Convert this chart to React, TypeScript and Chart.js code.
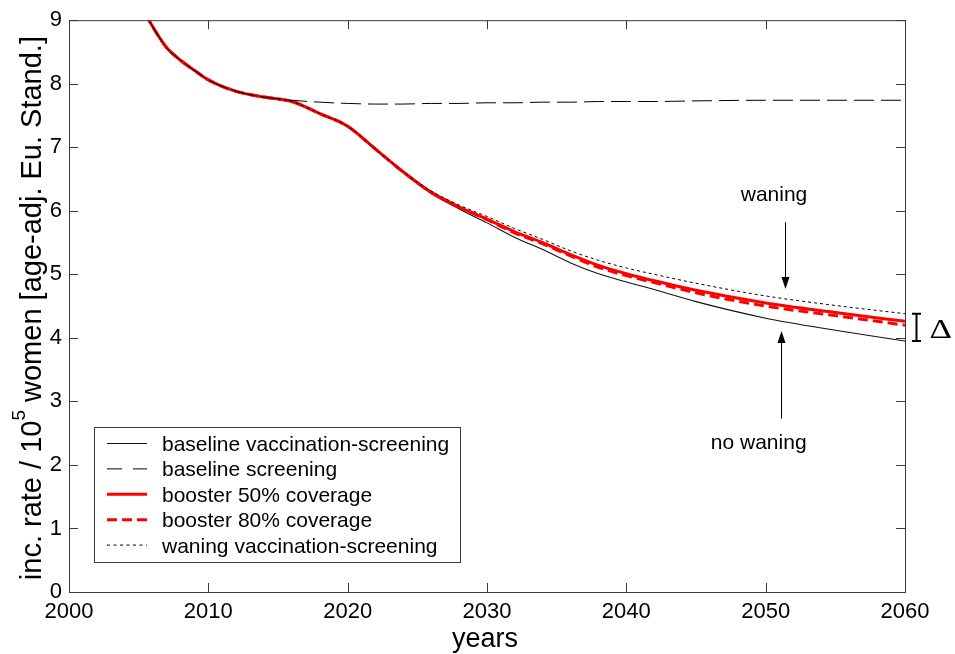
import { useEffect, useRef } from "react";
import { Chart, registerables } from "chart.js";

Chart.register(...registerables);

// Simulation years (irregular spacing, denser where the curves bend)
const years = [
  2005, 2006, 2007, 2008, 2009, 2010, 2012, 2014, 2016, 2018, 2020, 2022, 2024,
  2026, 2028, 2030, 2032, 2034, 2036, 2038, 2040, 2042, 2045, 2050, 2055, 2060,
];

// Incidence rate per 10^5 women (age-adjusted, European standard)
const baselineVaccinationScreening = [
  9.3, 8.9, 8.57, 8.37, 8.21, 8.06, 7.88, 7.79, 7.72, 7.53, 7.33, 6.97, 6.61,
  6.27, 6.03, 5.81, 5.58, 5.39, 5.18, 5.01, 4.88, 4.76, 4.57, 4.31, 4.12, 3.95,
];
const baselineScreening = [
  9.3, 8.9, 8.57, 8.37, 8.21, 8.06, 7.88, 7.79, 7.74, 7.71, 7.69, 7.68, 7.68,
  7.69, 7.69, 7.7, 7.7, 7.71, 7.71, 7.72, 7.72, 7.72, 7.73, 7.74, 7.74, 7.74,
];
const booster50 = [
  9.3, 8.9, 8.57, 8.37, 8.21, 8.06, 7.88, 7.79, 7.72, 7.53, 7.33, 6.97, 6.61,
  6.29, 6.06, 5.87, 5.67, 5.5, 5.31, 5.14, 5.01, 4.9, 4.75, 4.55, 4.4, 4.26,
];
const booster80 = [
  9.3, 8.9, 8.57, 8.37, 8.21, 8.06, 7.88, 7.79, 7.72, 7.53, 7.33, 6.97, 6.61,
  6.29, 6.06, 5.86, 5.65, 5.48, 5.29, 5.11, 4.98, 4.87, 4.71, 4.5, 4.35, 4.2,
];
const waningVaccinationScreening = [
  9.3, 8.9, 8.57, 8.37, 8.21, 8.06, 7.88, 7.79, 7.72, 7.53, 7.33, 6.97, 6.61,
  6.31, 6.09, 5.91, 5.72, 5.55, 5.37, 5.22, 5.1, 5.0, 4.86, 4.66, 4.51, 4.38,
];

const seriesLabels = [
  "baseline vaccination-screening",
  "baseline screening",
  "booster 50% coverage",
  "booster 80% coverage",
  "waning vaccination-screening",
];

const xTicks = [2000, 2010, 2020, 2030, 2040, 2050, 2060];
const yTicks = [0, 1, 2, 3, 4, 5, 6, 7, 8, 9];

// Annotation anchors in data units: [year, value]
const waningLabelAt = [2050.6, 6.15];
const waningArrow = [2051.4, 5.82, 4.77];
const noWaningLabelAt = [2049.5, 2.25];
const noWaningArrow = [2051.1, 2.73, 4.11];

const SANS = "'Liberation Sans', Arial, Helvetica, sans-serif";
const SERIF = "'Liberation Serif', 'Times New Roman', serif";
const AXIS = "#3a3a3a";

const styles = [
  { color: "#111111", width: 1.1, dash: [] as number[], order: 4, legendDash: [] as number[] },
  { color: "#000000", width: 1, dash: [20, 7], order: 1, legendDash: [15, 11] },
  { color: "#ff0000", width: 3, dash: [], order: 3, legendDash: [] },
  { color: "#ff0000", width: 3, dash: [10, 5], order: 2, legendDash: [10, 5] },
  { color: "#000000", width: 1, dash: [3, 3], order: 0, legendDash: [3, 3.5] },
];

function toPoints(values: number[]) {
  return years.map((y, i) => ({ x: y, y: values[i] }));
}

function arrow(ctx: CanvasRenderingContext2D, x: number, y0: number, y1: number) {
  const dir = y1 > y0 ? 1 : -1;
  ctx.beginPath();
  ctx.moveTo(x, y0);
  ctx.lineTo(x, y1 - dir * 10);
  ctx.stroke();
  ctx.beginPath();
  ctx.moveTo(x, y1);
  ctx.lineTo(x - 4, y1 - dir * 12);
  ctx.lineTo(x + 4, y1 - dir * 12);
  ctx.closePath();
  ctx.fill();
}

const decorations = {
  id: "decorations",
  afterDraw(chart: any) {
    const { ctx, chartArea: a, scales } = chart;
    const xs = scales.x;
    const ys = scales.y;
    ctx.save();

    // plot frame
    ctx.strokeStyle = AXIS;
    ctx.lineWidth = 1;
    ctx.setLineDash([]);
    ctx.strokeRect(a.left + 0.5, a.top + 0.5, a.right - a.left, a.bottom - a.top);

    // inward tick marks on all four sides
    const tl = 9;
    ctx.beginPath();
    xTicks.forEach((v) => {
      const px = Math.round(xs.getPixelForValue(v)) + 0.5;
      ctx.moveTo(px, a.bottom);
      ctx.lineTo(px, a.bottom - tl);
      ctx.moveTo(px, a.top);
      ctx.lineTo(px, a.top + tl);
    });
    yTicks.forEach((v) => {
      const py = Math.round(ys.getPixelForValue(v)) + 0.5;
      ctx.moveTo(a.left, py);
      ctx.lineTo(a.left + tl, py);
      ctx.moveTo(a.right, py);
      ctx.lineTo(a.right - tl, py);
    });
    ctx.stroke();

    // axis titles
    ctx.fillStyle = "#000";
    ctx.font = `27px ${SANS}`;
    ctx.textAlign = "center";
    ctx.textBaseline = "alphabetic";
    ctx.fillText("years", (a.left + a.right) / 2 - 2, 647);

    const part1 = "inc. rate / 10";
    const sup = "5";
    const part2 = " women [age-adj. Eu. Stand.]";
    ctx.font = `29px ${SANS}`;
    const w1 = ctx.measureText(part1).width;
    const w2 = ctx.measureText(part2).width;
    ctx.font = `19px ${SANS}`;
    const ws = ctx.measureText(sup).width;
    const total = w1 + ws + w2;
    ctx.save();
    ctx.translate(41, (a.top + a.bottom) / 2 + 2);
    ctx.rotate(-Math.PI / 2);
    ctx.textAlign = "left";
    let cx = -total / 2;
    ctx.font = `29px ${SANS}`;
    ctx.fillText(part1, cx, 0);
    cx += w1;
    ctx.font = `19px ${SANS}`;
    ctx.fillText(sup, cx, -16);
    cx += ws;
    ctx.font = `29px ${SANS}`;
    ctx.fillText(part2, cx, 0);
    ctx.restore();

    // annotations
    ctx.font = `21px ${SANS}`;
    ctx.textAlign = "center";
    ctx.fillText("waning", xs.getPixelForValue(waningLabelAt[0]), ys.getPixelForValue(waningLabelAt[1]));
    ctx.fillText("no waning", xs.getPixelForValue(noWaningLabelAt[0]), ys.getPixelForValue(noWaningLabelAt[1]));
    ctx.strokeStyle = "#000";
    ctx.fillStyle = "#000";
    ctx.lineWidth = 1;
    arrow(
      ctx,
      Math.round(xs.getPixelForValue(waningArrow[0])) + 0.5,
      ys.getPixelForValue(waningArrow[1]),
      ys.getPixelForValue(waningArrow[2])
    );
    arrow(
      ctx,
      Math.round(xs.getPixelForValue(noWaningArrow[0])) + 0.5,
      ys.getPixelForValue(noWaningArrow[1]),
      ys.getPixelForValue(noWaningArrow[2])
    );

    // bracket spanning the waning / no-waning gap at the final year
    const last = years.length - 1;
    const bx = a.right + 11.5;
    const bTop = ys.getPixelForValue(waningVaccinationScreening[last]);
    const bBot = ys.getPixelForValue(baselineVaccinationScreening[last]);
    ctx.lineWidth = 2;
    ctx.beginPath();
    ctx.moveTo(bx, bTop);
    ctx.lineTo(bx, bBot);
    ctx.moveTo(bx - 4.5, bTop);
    ctx.lineTo(bx + 4.5, bTop);
    ctx.moveTo(bx - 4.5, bBot);
    ctx.lineTo(bx + 4.5, bBot);
    ctx.stroke();
    ctx.save();
    ctx.translate(bx + 13, bBot - 3);
    ctx.scale(1.25, 1);
    ctx.font = `28px ${SERIF}`;
    ctx.textAlign = "left";
    ctx.fillText("\u0394", 0, 0);
    ctx.restore();

    // legend
    const lx = 94.5, ly = 427.5, lw = 366, lh = 135;
    ctx.fillStyle = "#fff";
    ctx.fillRect(lx, ly, lw, lh);
    ctx.strokeStyle = AXIS;
    ctx.lineWidth = 1;
    ctx.strokeRect(lx, ly, lw, lh);
    ctx.font = `21px ${SANS}`;
    ctx.textAlign = "left";
    seriesLabels.forEach((label, i) => {
      const rowY = 443.5 + i * 25.4;
      const s = styles[i];
      ctx.strokeStyle = s.color;
      ctx.lineWidth = s.width;
      ctx.setLineDash(s.legendDash);
      ctx.beginPath();
      ctx.moveTo(107, rowY);
      ctx.lineTo(147, rowY);
      ctx.stroke();
      ctx.setLineDash([]);
      ctx.fillStyle = "#000";
      ctx.fillText(label, 162, rowY + 7.5);
    });

    ctx.restore();
  },
};

export default function App() {
  const canvasRef = useRef<HTMLCanvasElement | null>(null);

  useEffect(() => {
    if (!canvasRef.current) return;
    const seriesValues = [
      baselineVaccinationScreening,
      baselineScreening,
      booster50,
      booster80,
      waningVaccinationScreening,
    ];
    const chart = new Chart(canvasRef.current, {
      type: "line",
      data: {
        datasets: seriesValues.map((vals, i) => ({
          label: seriesLabels[i],
          data: toPoints(vals),
          borderColor: styles[i].color,
          borderWidth: styles[i].width,
          borderDash: styles[i].dash,
          order: styles[i].order,
          pointRadius: 0,
          fill: false,
          cubicInterpolationMode: "monotone" as const,
          clip: 0,
        })),
      },
      options: {
        animation: false,
        responsive: true,
        maintainAspectRatio: false,
        layout: { padding: { top: 18, right: 50, left: 0, bottom: 0 } },
        plugins: {
          legend: { display: false },
          tooltip: { enabled: false },
        },
        scales: {
          x: {
            type: "linear",
            min: 2000,
            max: 2060,
            afterBuildTicks: (scale: any) => {
              scale.ticks = xTicks.map((v) => ({ value: v }));
            },
            afterFit: (scale: any) => {
              scale.height = 62;
            },
            grid: { display: false, drawTicks: false },
            border: { display: false },
            ticks: {
              color: "#000",
              font: { family: SANS, size: 22 },
              padding: 7,
              maxRotation: 0,
              callback: (v: any) => String(v),
            },
          },
          y: {
            type: "linear",
            min: 0,
            max: 9,
            afterBuildTicks: (scale: any) => {
              scale.ticks = yTicks.map((v) => ({ value: v }));
            },
            afterFit: (scale: any) => {
              scale.width = 69;
            },
            grid: { display: false, drawTicks: false },
            border: { display: false },
            ticks: {
              color: "#000",
              font: { family: SANS, size: 22 },
              padding: 7,
              callback: (v: any) => String(v),
            },
          },
        },
      },
      plugins: [decorations],
    });
    return () => chart.destroy();
  }, []);

  return (
    <div style={{ position: "absolute", left: 0, top: 0, width: 955, height: 654, background: "#fff" }}>
      <canvas ref={canvasRef} />
    </div>
  );
}
